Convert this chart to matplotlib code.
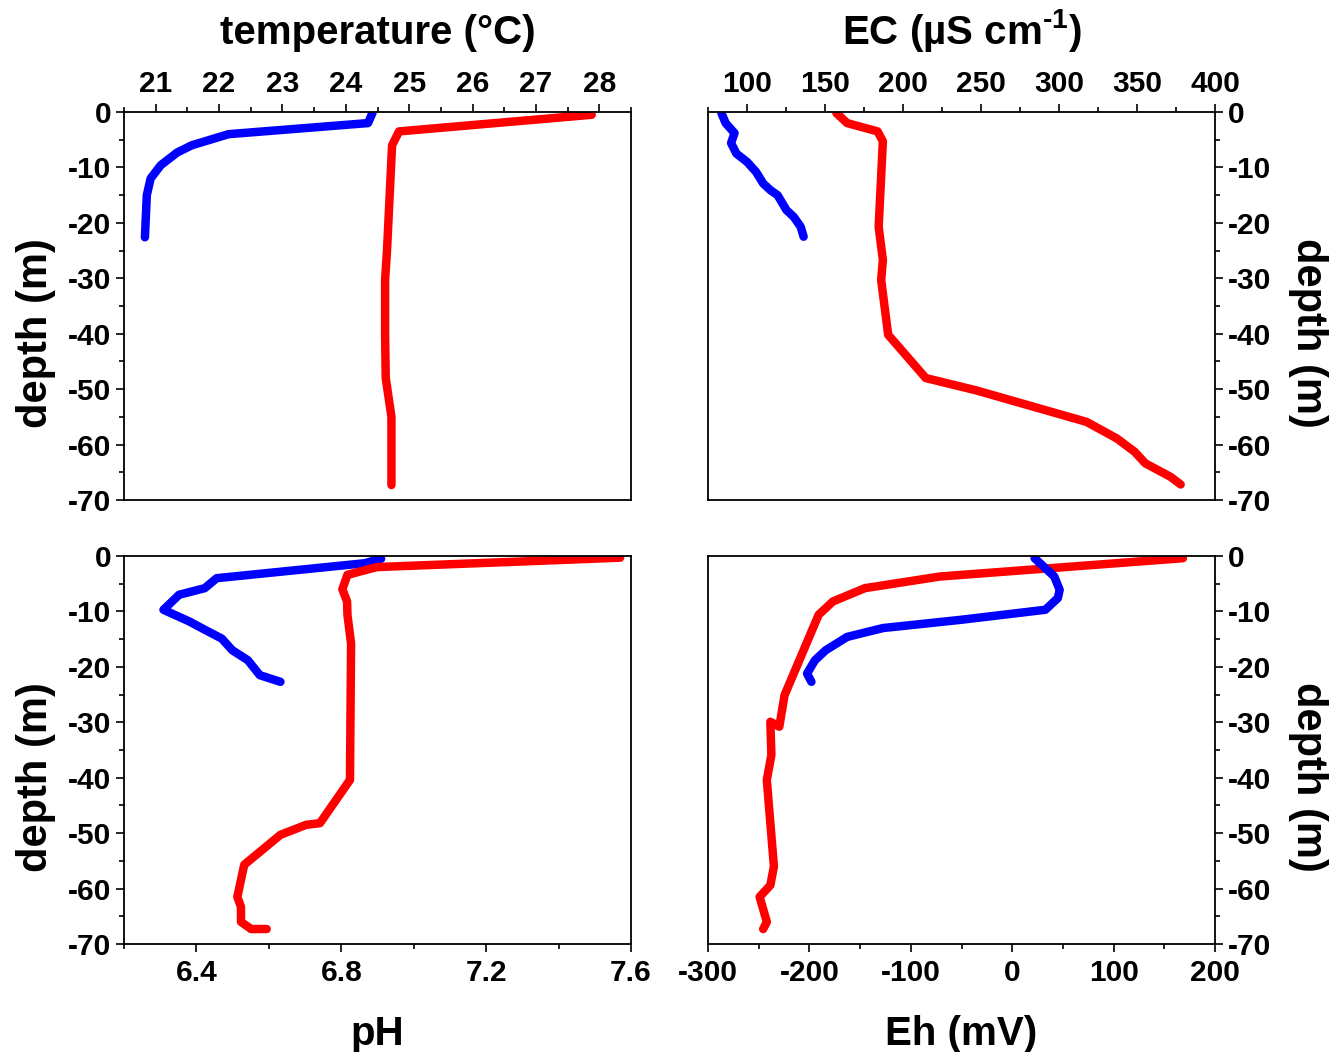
import matplotlib
matplotlib.use("Agg")
import matplotlib.pyplot as plt
from matplotlib.ticker import FixedLocator, MultipleLocator, FormatStrFormatter

plt.rcParams['font.family'] = ['Liberation Sans', 'DejaVu Sans']
plt.rcParams['font.weight'] = 'bold'
plt.rcParams['axes.unicode_minus'] = False
plt.rcParams['mathtext.fontset'] = 'custom'
plt.rcParams['mathtext.rm'] = 'Liberation Sans:bold'
plt.rcParams['mathtext.it'] = 'Liberation Sans:bold'
plt.rcParams['mathtext.bf'] = 'Liberation Sans:bold'

# ---------------- data ----------------
# temperature (°C)
blue_T_depth = [-0.2, -2.0, -4.0, -6.0, -7.3, -9.6, -12.0, -15.0, -22.6]
blue_T = [24.42, 24.35, 22.15, 21.57, 21.34, 21.08, 20.92, 20.86, 20.83]
red_T_depth = [-0.5, -3.5, -6.0, -25.0, -30.3, -40.0, -48.0, -55.0, -67.3]
red_T = [27.88, 24.84, 24.73, 24.65, 24.62, 24.62, 24.63, 24.72, 24.72]

# EC (uS/cm)
blue_EC_depth = [-0.2, -2.0, -3.8, -5.6, -7.5, -9.0, -10.8, -12.9, -14.1, -15.0,
                 -17.7, -18.9, -20.7, -22.5]
blue_EC = [83.6, 86.3, 92.0, 89.8, 93.2, 100.0, 105.8, 110.4, 115.0, 119.6,
           125.3, 129.9, 134.4, 136.3]
red_EC_depth = [-0.2, -2.0, -3.5, -5.3, -20.7, -26.7, -30.3, -40.2, -48.0, -50.2,
                -55.9, -58.9, -61.3, -63.4, -65.8, -67.2]
red_EC = [157.3, 164.2, 183.7, 187.1, 184.4, 187.1, 186.0, 190.5, 214.6, 246.6,
          317.6, 337.1, 348.5, 355.4, 371.4, 378.0]

# pH
blue_pH_depth = [-0.5, -1.3, -4.0, -5.8, -7.0, -9.7, -11.8, -13.3, -14.9, -17.0,
                 -18.8, -21.5, -22.7]
blue_pH = [6.91, 6.865, 6.456, 6.423, 6.352, 6.309, 6.38, 6.423, 6.47, 6.499,
           6.542, 6.575, 6.632]
red_pH_depth = [-0.3, -2.0, -3.4, -6.0, -8.2, -10.6, -15.8, -40.4, -48.2, -48.5,
                -50.3, -55.7, -61.5, -63.3, -66.0, -67.3, -67.3]
red_pH = [7.57, 6.898, 6.817, 6.803, 6.816, 6.817, 6.827, 6.824, 6.741, 6.703,
          6.632, 6.532, 6.513, 6.523, 6.523, 6.551, 6.594]

# Eh (mV)
blue_Eh_depth = [-0.4, -1.6, -3.7, -6.1, -7.6, -9.7, -11.5, -13.0, -14.6, -17.0,
                 -18.8, -21.2, -22.7]
blue_Eh = [22.1, 29.2, 41.5, 46.8, 45.0, 32.7, -50.0, -127.5, -162.8, -183.9,
           -194.5, -202.3, -198.0]
red_Eh_depth = [-0.4, -3.7, -5.8, -8.2, -10.6, -25.1, -30.8, -29.9, -35.9, -40.4,
                -48.2, -56.0, -59.4, -61.5, -66.0, -67.3]
red_Eh = [168.3, -71.2, -145.2, -176.8, -190.9, -224.5, -229.7, -238.5, -237.5,
          -242.0, -238.5, -235.0, -238.5, -249.1, -242.0, -245.6]

# ---------------- figure ----------------
W, H = 1339, 1052
fig = plt.figure(figsize=(W / 100, H / 100), dpi=100)

def rect(x0, y0, x1, y1):
    return [x0 / W, 1 - y1 / H, (x1 - x0) / W, (y1 - y0) / H]

ax_T = fig.add_axes(rect(124, 112, 631, 500))
ax_EC = fig.add_axes(rect(708, 112, 1215, 500))
ax_pH = fig.add_axes(rect(124, 556, 631, 944))
ax_Eh = fig.add_axes(rect(708, 556, 1215, 944))

LW = 6.1
BLUE = '#0000ff'
RED = '#ff0000'
TICK_FS = 21.5
XLABEL_FS = 29
YLABEL_FS = 30
DEPTH_LABEL_Y = 0.43

def line(ax, x, y, c):
    ax.plot(x, y, color=c, lw=LW, solid_capstyle='round', solid_joinstyle='round')

line(ax_T, blue_T, blue_T_depth, BLUE)
line(ax_T, red_T, red_T_depth, RED)
line(ax_EC, blue_EC, blue_EC_depth, BLUE)
line(ax_EC, red_EC, red_EC_depth, RED)
line(ax_pH, blue_pH, blue_pH_depth, BLUE)
line(ax_pH, red_pH, red_pH_depth, RED)
line(ax_Eh, red_Eh, red_Eh_depth, RED)
line(ax_Eh, blue_Eh, blue_Eh_depth, BLUE)

for ax in (ax_T, ax_EC, ax_pH, ax_Eh):
    ax.set_ylim(-70, 0)
    ax.yaxis.set_major_locator(MultipleLocator(10))
    ax.yaxis.set_minor_locator(MultipleLocator(5))
    for s in ax.spines.values():
        s.set_linewidth(1.3)
    ax.tick_params(which='major', direction='out', length=6, width=1.2,
                   labelsize=TICK_FS, pad=3)
    ax.tick_params(which='minor', direction='out', length=3.5, width=1.2)

# top-left: temperature
ax_T.set_xlim(20.5, 28.5)
ax_T.xaxis.set_major_locator(MultipleLocator(1))
ax_T.xaxis.set_minor_locator(MultipleLocator(0.5))
ax_T.tick_params(axis='x', which='both', top=True, bottom=False,
                 labeltop=True, labelbottom=False)
ax_T.tick_params(axis='x', which='major', pad=4)
ax_T.xaxis.set_label_position('top')
ax_T.set_xlabel('temperature (°C)', fontsize=XLABEL_FS, fontweight='bold', labelpad=19)
ax_T.set_ylabel('depth (m)', fontsize=YLABEL_FS, fontweight='bold', labelpad=9)

# top-right: EC
ax_EC.set_xlim(75, 400)
ax_EC.xaxis.set_major_locator(MultipleLocator(50))
ax_EC.xaxis.set_minor_locator(MultipleLocator(25))
ax_EC.tick_params(axis='x', which='both', top=True, bottom=False,
                  labeltop=True, labelbottom=False)
ax_EC.tick_params(axis='x', which='major', pad=4)
ax_EC.tick_params(axis='y', which='both', left=False, right=True,
                  labelleft=False, labelright=True)
ax_EC.xaxis.set_label_position('top')
ax_EC.yaxis.set_label_position('right')
ax_EC.set_xlabel(r'EC (µS cm$^{\text{-1}}$)', fontsize=XLABEL_FS, fontweight='bold',
                 labelpad=19)
ax_EC.set_ylabel('depth (m)', fontsize=YLABEL_FS, fontweight='bold', rotation=270,
                 va='bottom', labelpad=12)

# bottom-left: pH
ax_pH.set_xlim(6.2, 7.6)
ax_pH.xaxis.set_major_locator(FixedLocator([6.4, 6.8, 7.2, 7.6]))
ax_pH.xaxis.set_minor_locator(FixedLocator([6.2, 6.6, 7.0, 7.4]))
ax_pH.xaxis.set_major_formatter(FormatStrFormatter('%.1f'))
ax_pH.tick_params(axis='x', which='major', pad=5)
ax_pH.set_xlabel('pH', fontsize=XLABEL_FS, fontweight='bold', labelpad=20)
ax_pH.set_ylabel('depth (m)', fontsize=YLABEL_FS, fontweight='bold', labelpad=9)

# bottom-right: Eh
ax_Eh.set_xlim(-300, 200)
ax_Eh.xaxis.set_major_locator(MultipleLocator(100))
ax_Eh.xaxis.set_minor_locator(MultipleLocator(50))
ax_Eh.tick_params(axis='x', which='major', pad=5)
ax_Eh.tick_params(axis='y', which='both', left=False, right=True,
                  labelleft=False, labelright=True)
ax_Eh.yaxis.set_label_position('right')
ax_Eh.set_xlabel('Eh (mV)', fontsize=XLABEL_FS, fontweight='bold', labelpad=20)
ax_Eh.set_ylabel('depth (m)', fontsize=YLABEL_FS, fontweight='bold', rotation=270,
                 va='bottom', labelpad=12)

for ax in (ax_T, ax_EC, ax_pH, ax_Eh):
    ax.yaxis.label.set_y(DEPTH_LABEL_Y)
    for lab in ax.get_xticklabels() + ax.get_yticklabels():
        lab.set_fontweight('bold')

fig.savefig('out.png', dpi=100)
